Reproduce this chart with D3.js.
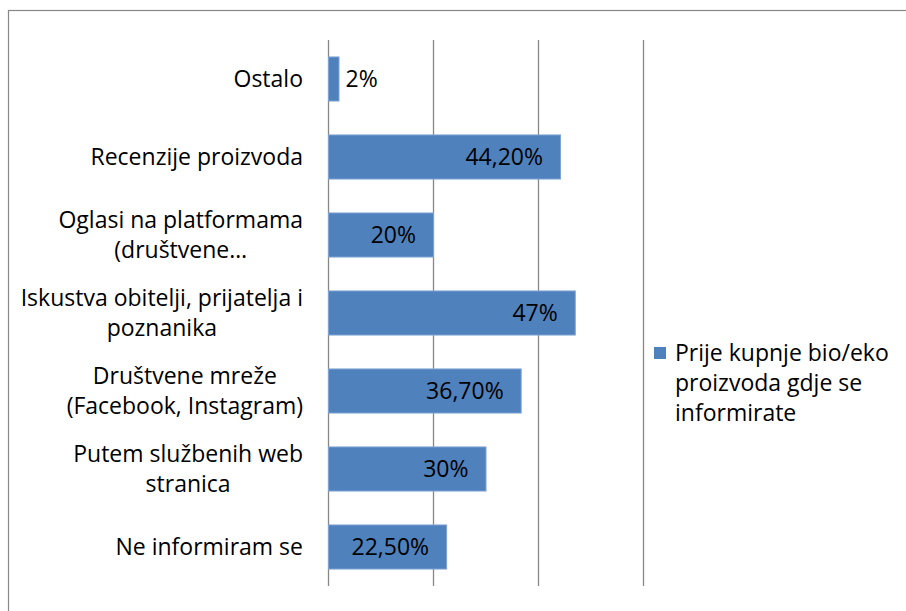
<!DOCTYPE html>
<html>
<head>
<meta charset="utf-8">
<script src="https://cdn.jsdelivr.net/npm/d3@7/dist/d3.min.js"></script>
<style>
html,body{margin:0;padding:0;background:#fff;}
svg{display:block;}
text{font-family:"Open Sans",sans-serif;fill:#000;}
</style>
</head>
<body>
<svg id="chart" width="906" height="611"></svg>
<script>
const categories = [
  ["Ostalo"],
  ["Recenzije proizvoda"],
  ["Oglasi na platformama", "(društvene…"],
  ["Iskustva obitelji, prijatelja i", "poznanika"],
  ["Društvene mreže", "(Facebook, Instagram)"],
  ["Putem službenih web", "stranica"],
  ["Ne informiram se"]
];
const values = [0.02, 0.442, 0.20, 0.47, 0.367, 0.30, 0.225];
const valueLabels = ["2%", "44,20%", "20%", "47%", "36,70%", "30%", "22,50%"];
const gridTicks = [0, 0.2, 0.4, 0.6];
const seriesName = ["Prije kupnje bio/eko", "proizvoda gdje se", "informirate"];

const svg = d3.select("#chart");
const fontSize = 23;
const lineH = 30;
const barColor = "#4F81BD";
const gridColor = "#878787";

// outer border
svg.append("rect").attr("x", 8.5).attr("y", 10.5).attr("width", 1000).attr("height", 1000)
  .attr("fill", "none").attr("stroke", gridColor).attr("stroke-width", 1.2);

const x = d3.scaleLinear().domain([0, 0.6]).range([328, 643]);
const idx = d3.range(categories.length);
const y = d3.scaleBand().domain(idx).range([40, 586]).paddingInner(0.435).paddingOuter(0.2175);

// gridlines
svg.append("g").selectAll("line").data(gridTicks).join("line")
  .attr("x1", d => Math.round(x(d)) + 0.5).attr("x2", d => Math.round(x(d)) + 0.5)
  .attr("y1", 40).attr("y2", 586)
  .attr("stroke", gridColor).attr("stroke-width", 1.3);

// bars
svg.append("g").selectAll("rect").data(idx).join("rect")
  .attr("x", x(0) + 0.5)
  .attr("y", i => y(i))
  .attr("width", i => x(values[i]) - x(0))
  .attr("height", y.bandwidth())
  .attr("fill", barColor)
  .attr("stroke", "#7fa3d3").attr("stroke-width", 1);

// value labels
svg.append("g").selectAll("text").data(idx).join("text")
  .attr("x", i => values[i] < 0.05 ? x(values[i]) + 7 : x(values[i]) - 17)
  .attr("y", i => y(i) + y.bandwidth() / 2)
  .attr("dy", "0.35em")
  .attr("text-anchor", i => values[i] < 0.05 ? "start" : "end")
  .attr("font-size", fontSize)
  .text(i => valueLabels[i]);

// category labels
const labelRight = 303;
const catG = svg.append("g");
idx.forEach(i => {
  const lines = categories[i];
  const g = catG.append("g");
  const texts = g.selectAll("text").data(lines).join("text")
    .attr("font-size", fontSize)
    .attr("text-anchor", "middle")
    .attr("dy", "0.35em")
    .text(d => d);
  let maxW = 0;
  texts.each(function(){ maxW = Math.max(maxW, this.getComputedTextLength()); });
  const cx = labelRight - maxW / 2;
  const cy = y(i) + y.bandwidth() / 2;
  texts.attr("x", cx).attr("y", (d, k) => cy + (k - (lines.length - 1) / 2) * lineH);
});

// legend
const lg = svg.append("g");
lg.append("rect").attr("x", 654).attr("y", 347).attr("width", 12).attr("height", 12).attr("fill", barColor);
lg.selectAll("text").data(seriesName).join("text")
  .attr("x", 675)
  .attr("y", (d, k) => 353 + k * lineH)
  .attr("dy", "0.35em")
  .attr("font-size", fontSize)
  .text(d => d);
</script>
</body>
</html>
